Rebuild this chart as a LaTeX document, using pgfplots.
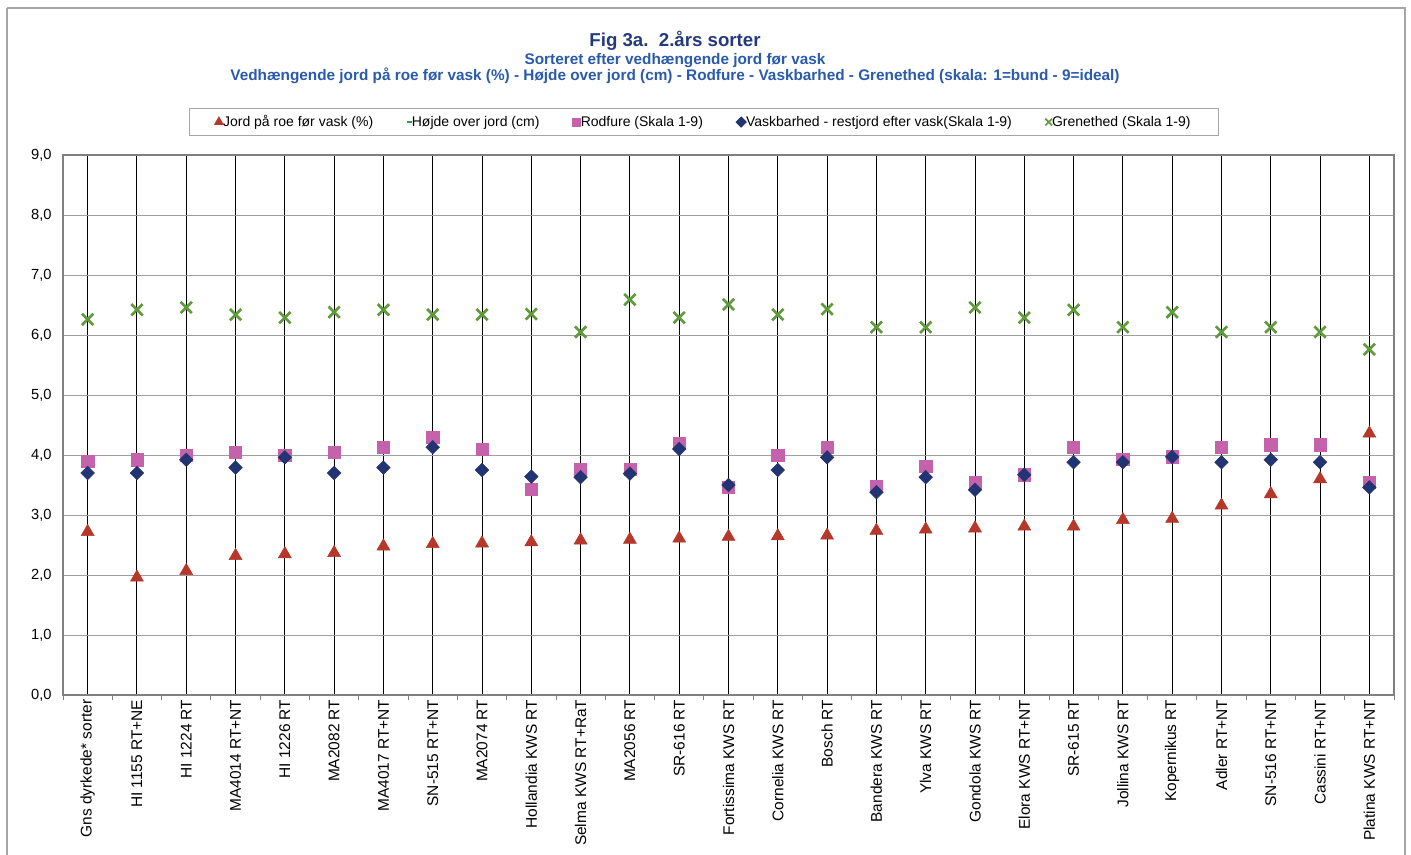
\documentclass[border=0pt]{standalone}
\usepackage{fontspec}
\setmainfont{Liberation Sans}
\usepackage{pgfplots}
\pgfplotsset{compat=1.18}
\usepackage{pgfplotstable}
\definecolor{cTri}{HTML}{B5382A}
\definecolor{cSq}{HTML}{C462AC}
\definecolor{cDia}{HTML}{233472}
\definecolor{cX}{HTML}{5F9A3B}
\definecolor{cH}{HTML}{2E9E48}
\definecolor{cTitle}{HTML}{233A7D}
\definecolor{cSub}{HTML}{2A5AAB}
\definecolor{cFrame}{HTML}{A6A6A6}

\pgfplotstableread{
x jord rodfure vask gren
0 2.75 3.89 3.70 6.26
1 1.99 3.92 3.70 6.42
2 2.10 4.00 3.92 6.46
3 2.35 4.05 3.79 6.34
4 2.38 4.00 3.96 6.29
5 2.40 4.05 3.70 6.38
6 2.51 4.13 3.79 6.42
7 2.55 4.29 4.13 6.34
8 2.56 4.09 3.75 6.34
9 2.58 3.43 3.64 6.35
10 2.61 3.76 3.63 6.05
11 2.62 3.76 3.69 6.59
12 2.64 4.19 4.10 6.29
13 2.67 3.46 3.50 6.51
14 2.68 4.00 3.75 6.34
15 2.69 4.13 3.96 6.43
16 2.77 3.48 3.38 6.13
17 2.79 3.81 3.63 6.13
18 2.81 3.55 3.42 6.46
19 2.84 3.67 3.67 6.29
20 2.84 4.13 3.88 6.42
21 2.95 3.93 3.88 6.13
22 2.97 3.97 3.97 6.38
23 3.19 4.13 3.88 6.05
24 3.38 4.17 3.92 6.13
25 3.63 4.17 3.88 6.05
26 4.39 3.55 3.46 5.76
}\datatable

\begin{document}
\begin{tikzpicture}[x=0.75pt,y=-0.75pt]
\useasboundingbox (0,0) rectangle (1411,855);
\draw[cFrame, line width=1.5pt] (7,8) -- (1405,8) -- (1405,870);
\draw[cFrame, line width=1.5pt] (7,8) -- (7,870);
\node[anchor=base, font=\bfseries\fontsize{14}{16}\selectfont, text=cTitle] at (675,47) {Fig 3a.\ \ 2.års sorter};
\node[anchor=base, font=\bfseries\fontsize{11.5}{13}\selectfont, text=cSub] at (675,65) {Sorteret efter vedhængende jord før vask};
\node[anchor=base, font=\bfseries\fontsize{11.5}{13}\selectfont, text=cSub] at (675,81) {Vedhængende jord på roe før vask (\%) - Højde over jord (cm) - Rodfure - Vaskbarhed - Grenethed (skala: 1=bund - 9=ideal)};
\begin{axis}[
  at={(47.25pt,-521.25pt)}, anchor=south west,
  scale only axis, width=998.25pt, height=405pt,
  xmin=-0.5, xmax=26.5, ymin=0, ymax=9,
  xtick={0,...,26},
  minor xtick={-0.5,0.5,...,26.5},
  ytick={0,1,...,9},
  xticklabels={Gns dyrkede* sorter, HI 1155 RT+NE, HI 1224 RT, MA4014 RT+NT, HI 1226 RT, MA2082 RT, MA4017 RT+NT, SN-515 RT+NT, MA2074 RT, Hollandia KWS RT, Selma KWS RT+RaT, MA2056 RT, SR-616 RT, Fortissima KWS RT, Cornelia KWS RT, Bosch RT, Bandera KWS RT, Ylva KWS RT, Gondola KWS RT, Elora KWS RT+NT, SR-615 RT, Jollina KWS RT, Kopernikus RT, Adler RT+NT, SN-516 RT+NT, Cassini RT+NT, Platina KWS RT+NT},
  xtick pos=bottom, ytick pos=left, tick align=outside,
  major tick length=0pt, minor tick length=3.5pt,
  minor tick style={gray, line width=0.6pt},
  xmajorgrids, ymajorgrids,
  x grid style={black, line width=0.7pt},
  y grid style={gray!75, line width=0.6pt},
  axis line style={gray, line width=1.1pt},
  /pgf/number format/assume math mode=true,
  yticklabel style={/pgf/number format/.cd, fixed, fixed zerofill, precision=1, use comma, /tikz/.cd, font=\fontsize{11}{13}\selectfont, xshift=-5pt},
  xticklabel style={rotate=90, anchor=east, font=\fontsize{11.6}{13}\selectfont, yshift=0pt},
  legend columns=5,
  legend image code/.code={\draw[#1] plot coordinates {(0.12cm,0cm)};},
  legend style={at={(0.4816,1.061)}, anchor=center, draw=gray!70, line width=0.8pt,
    font=\fontsize{10.5}{12}\selectfont, inner xsep=19pt, inner ysep=3pt,
    /tikz/every even column/.append style={column sep=23pt},
    /tikz/every odd column/.append style={column sep=-2pt}},
]
\addplot[only marks, mark=triangle*, mark size=5.6pt, color=cTri, mark options={yshift=-1.4pt}, forget plot] table[x=x, y=jord] {\datatable};
\addplot[only marks, mark=square*, mark size=4.6pt, color=cSq, forget plot] table[x=x, y=rodfure] {\datatable};
\addplot[only marks, mark=square*, mark size=3.6pt, color=cDia, mark options={rotate=45}, forget plot] table[x=x, y=vask] {\datatable};
\addplot[only marks, mark=x, mark size=6pt, color=cX, line width=2pt, forget plot] table[x=x, y=gren] {\datatable};
\addlegendimage{only marks, mark=triangle*, mark size=3.6pt, color=cTri}
\addlegendentry{Jord på roe før vask (\%)}
\addlegendimage{only marks, mark=-, mark size=2pt, color=cH, line width=1.5pt}
\addlegendentry{Højde over jord (cm)}
\addlegendimage{only marks, mark=square*, mark size=3pt, color=cSq}
\addlegendentry{Rodfure (Skala 1-9)}
\addlegendimage{only marks, mark=square*, mark size=2.6pt, mark options={rotate=45}, color=cDia}
\addlegendentry{Vaskbarhed - restjord efter vask(Skala 1-9)}
\addlegendimage{only marks, mark=x, mark size=3.6pt, line width=1.3pt, color=cX}
\addlegendentry{Grenethed (Skala 1-9)}
\end{axis}
\end{tikzpicture}
\end{document}
